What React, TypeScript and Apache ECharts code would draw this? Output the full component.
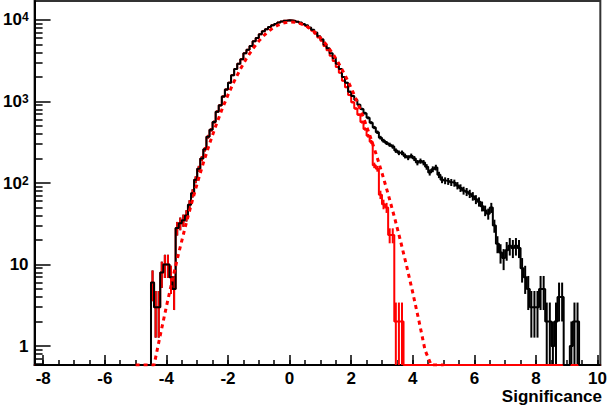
import React, { useEffect, useRef } from 'react';
import * as echarts from 'echarts';

// ---- data ----
const BIN_START = -4.5;
const BIN_WIDTH = 0.1;

// all candidates, bins of 0.1 starting at -4.5
const blackCounts = [
  6, 3, 3, 8, 10, 10, 7, 5, 28, 32,
  35, 40, 54, 75, 110, 150, 200, 260, 370, 450,
  560, 750, 900, 1150, 1400, 1700, 2100, 2500, 2900, 3300,
  3900, 4300, 4800, 5500, 6000, 6700, 7300, 7700, 8200, 8600,
  8900, 9300, 9600, 9800, 9900, 9850, 9700, 9500, 9300, 8900,
  8600, 8100, 7600, 7000, 6300, 5800, 5000, 4500, 3900, 3400,
  2900, 2500, 2000, 1700, 1320, 1170, 1050, 910, 810, 720,
  630, 550, 480, 420, 360, 330, 310, 295, 280, 250,
  235, 235, 215, 205, 215, 200, 178, 186, 178, 158,
  135, 148, 155, 126, 110, 107, 105, 102, 100, 93,
  87, 81, 78, 74, 69, 63, 59, 52, 46, 42,
  50, 30, 18, 14, 12, 15, 17, 16, 17, 16,
  9, 7, 5, 3, 3, 3, 5, 5, 2, 2,
  1, 2, 4, 4, 0, 0, 1, 2, 2, 0,
];

// background-like subset, same binning
const redCounts = [
  6, 3, 3, 8, 10, 10, 7, 5, 28, 32,
  35, 40, 54, 75, 110, 150, 200, 260, 370, 450,
  560, 750, 900, 1150, 1400, 1700, 2100, 2500, 2900, 3300,
  3900, 4300, 4800, 5500, 6000, 6700, 7300, 7700, 8200, 8600,
  8900, 9300, 9600, 9800, 9900, 9850, 9700, 9500, 9200, 8800,
  8450, 7950, 7400, 6800, 6100, 5550, 4800, 4250, 3650, 3150,
  2650, 2250, 1800, 1500, 1200, 980, 820, 690, 560, 460,
  380, 320, 165, 150, 72, 55, 50, 23, 23, 2,
  2, 2, 0, 0, 0, 0, 0, 0, 0, 0,
];

// gaussian fit curve (dashed)
const fitX = [
  -5.0, -4.8, -4.6, -4.4, -4.2, -4.0, -3.8, -3.6, -3.4, -3.2,
  -3.0, -2.8, -2.6, -2.4, -2.2, -2.0, -1.8, -1.6, -1.4, -1.2,
  -1.0, -0.8, -0.6, -0.4, -0.2, 0.0, 0.2, 0.4, 0.6, 0.8,
  1.0, 1.2, 1.4, 1.6, 1.8, 2.0, 2.2, 2.4, 2.6, 2.8,
  3.0, 3.2, 3.4, 3.6, 3.8, 4.0, 4.2, 4.4, 4.6, 4.8, 5.0,
];
const fitY = [
  0.035, 0.093, 0.236, 0.577, 1.35, 3.05, 6.62, 13.8, 27.7, 53.4,
  98.9, 176.6, 302.7, 499, 791, 1206, 1767, 2490, 3374, 4398,
  5510, 6639, 7691, 8566, 9174, 9448, 9356, 8909, 8157, 7180,
  6078, 4948, 3872, 2914, 2108, 1467, 981, 632, 390, 232,
  132.9, 73.1, 38.7, 19.6, 9.6, 4.51, 2.04, 0.886, 0.371, 0.149, 0.058,
];

const xMajorTicks = [-8, -6, -4, -2, 0, 2, 4, 6, 8, 10];
const xMinorTicks = [
  -8, -7.5, -7, -6.5, -6, -5.5, -5, -4.5, -4, -3.5, -3, -2.5, -2, -1.5, -1, -0.5,
  0, 0.5, 1, 1.5, 2, 2.5, 3, 3.5, 4, 4.5, 5, 5.5, 6, 6.5, 7, 7.5, 8, 8.5, 9, 9.5, 10,
];
const yMajorTicks = [1, 10, 100, 1000, 10000];
const yMinorTicks = [
  0.6, 0.7, 0.8, 0.9,
  2, 3, 4, 5, 6, 7, 8, 9,
  20, 30, 40, 50, 60, 70, 80, 90,
  200, 300, 400, 500, 600, 700, 800, 900,
  2000, 3000, 4000, 5000, 6000, 7000, 8000, 9000,
];

const X_MIN = -8.28;
const X_MAX = 10.09;
const Y_MIN = 0.585;
const Y_MAX = 17100;
const FONT = '"Liberation Sans", Arial, Helvetica, sans-serif';

function edge(i: number) {
  return Math.round((BIN_START + i * BIN_WIDTH) * 100) / 100;
}

function stepPoints(counts: number[]) {
  const pts: number[][] = [[X_MIN, Y_MIN]];
  counts.forEach((c, i) => pts.push([edge(i), Math.max(c, Y_MIN)]));
  pts.push([edge(counts.length), Y_MIN]);
  pts.push([X_MAX, Y_MIN]);
  return pts;
}

function errPoints(counts: number[]) {
  return counts
    .map((c, i) => [Math.round((edge(i) + BIN_WIDTH / 2) * 100) / 100, c])
    .filter((p) => p[1] > 0);
}

function errSeries(counts: number[], color: string) {
  return {
    type: 'custom',
    xAxisIndex: 0,
    yAxisIndex: 0,
    clip: true,
    silent: true,
    data: errPoints(counts),
    renderItem: (params: any, api: any) => {
      const x = api.value(0);
      const v = api.value(1);
      const e = Math.sqrt(v);
      const lo = Math.max(v - e, Y_MIN);
      const hi = Math.min(v + e, Y_MAX);
      const p1 = api.coord([x, lo]);
      const p2 = api.coord([x, hi]);
      return {
        type: 'line',
        shape: { x1: p1[0], y1: p1[1], x2: p2[0], y2: p2[1] },
        style: { stroke: color, lineWidth: 2 },
      };
    },
  };
}

function yLabel(v: number) {
  const p = Math.round(Math.log10(v));
  if (p === 0) return '{b|1}';
  if (p === 1) return '{b|10}';
  return '{b|10}{s|' + p + '}';
}

export default function App() {
  const ref = useRef<HTMLDivElement>(null);
  useEffect(() => {
    if (!ref.current) return;
    const chart = echarts.init(ref.current, undefined, { renderer: 'svg' });
    const labelStyle = { fontFamily: FONT, fontWeight: 'bold', fontSize: 17, color: '#000', lineHeight: 15 };
    chart.setOption({
      animation: false,
      backgroundColor: '#fff',
      grid: {
        left: 33,
        right: 7.3,
        top: 1,
        bottom: 41,
        show: true,
        borderColor: '#333',
        borderWidth: 2,
        backgroundColor: 'transparent',
      },
      xAxis: [
        {
          type: 'value',
          position: 'bottom',
          min: X_MIN,
          max: X_MAX,
          splitLine: { show: false },
          axisLine: { show: true, onZero: false, lineStyle: { color: '#000', width: 2 } },
          axisTick: { show: true, inside: true, length: 10, customValues: xMajorTicks, lineStyle: { color: '#000', width: 1.5 } },
          axisLabel: { show: true, customValues: xMajorTicks, margin: 6, ...labelStyle },
        },
        {
          type: 'value',
          position: 'bottom',
          min: X_MIN,
          max: X_MAX,
          splitLine: { show: false },
          axisLine: { show: false, onZero: false },
          axisTick: { show: true, inside: true, length: 5, customValues: xMinorTicks, lineStyle: { color: '#000', width: 1.5 } },
          axisLabel: { show: false },
        },
      ],
      yAxis: [
        {
          type: 'log',
          logBase: 10,
          position: 'left',
          min: Y_MIN,
          max: Y_MAX,
          splitLine: { show: false },
          axisLine: { show: true, onZero: false, lineStyle: { color: '#000', width: 2 } },
          axisTick: { show: true, inside: true, length: 16, customValues: yMajorTicks, lineStyle: { color: '#000', width: 1.5 } },
          axisLabel: {
            show: true,
            customValues: yMajorTicks,
            margin: 6,
            formatter: yLabel,
            rich: {
              b: { fontFamily: FONT, fontWeight: 'bold', fontSize: 17, color: '#000', lineHeight: 17 },
              s: { fontFamily: FONT, fontWeight: 'bold', fontSize: 12, color: '#000', verticalAlign: 'top', lineHeight: 12 },
            },
          },
        },
        {
          type: 'log',
          logBase: 10,
          position: 'left',
          min: Y_MIN,
          max: Y_MAX,
          splitLine: { show: false },
          axisLine: { show: false, onZero: false },
          axisTick: { show: true, inside: true, length: 8, customValues: yMinorTicks, lineStyle: { color: '#000', width: 1.5 } },
          axisLabel: { show: false },
        },
      ],
      graphic: [
        {
          type: 'text',
          right: 8,
          top: 388,
          style: { text: 'Significance', font: 'bold 17px ' + FONT, fill: '#000' },
        },
      ],
      series: [
        {
          type: 'line',
          name: 'red',
          xAxisIndex: 0,
          yAxisIndex: 0,
          step: 'end',
          showSymbol: false,
          symbol: 'none',
          clip: true,
          lineStyle: { color: '#ff0000', width: 2 },
          data: stepPoints(redCounts),
        },
        {
          type: 'line',
          name: 'black',
          xAxisIndex: 0,
          yAxisIndex: 0,
          step: 'end',
          showSymbol: false,
          symbol: 'none',
          clip: true,
          lineStyle: { color: '#000', width: 2 },
          data: stepPoints(blackCounts),
        },
        errSeries(blackCounts, '#000'),
        errSeries(redCounts, '#ff0000'),
        {
          type: 'line',
          name: 'fit',
          xAxisIndex: 0,
          yAxisIndex: 0,
          showSymbol: false,
          symbol: 'none',
          clip: true,
          lineStyle: { color: '#ff0000', width: 3, type: [4, 4] },
          data: fitX.map((x, i) => [x, Math.max(fitY[i], Y_MIN)]),
        },
      ],
    });
    return () => chart.dispose();
  }, []);
  return <div ref={ref} style={{ position: 'fixed', left: 0, top: 0, width: 610, height: 406 }} />;
}
